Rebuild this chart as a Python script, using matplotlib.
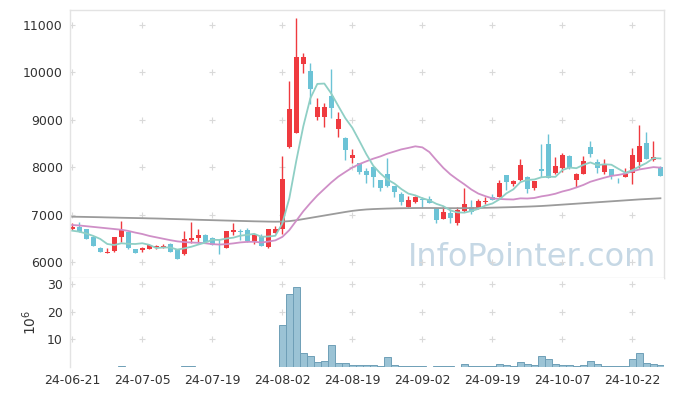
import numpy as np
import pandas as pd
import matplotlib
matplotlib.use("Agg")
import matplotlib.pyplot as plt

# daily prices (85 trading days, 24-06-21 .. 24-10-28)
opens = [6700, 6745, 6700, 6534, 6295, 6185, 6240, 6535, 6625, 6274,
         6253, 6281, 6310, 6316, 6386, 6268, 6162, 6464, 6513, 6576,
         6513, 6470, 6300, 6633, 6661, 6675, 6436, 6534, 6323, 6618,
         6703, 8432, 8728, 10184, 10023, 9053, 9050, 9502, 8812, 8616,
         8200, 8082, 7926, 8011, 7730, 7857, 7603, 7435, 7167, 7272,
         7318, 7329, 7133, 6907, 7040, 6816, 7076, 7154, 7118, 7260,
         7378, 7378, 7835, 7646, 7730, 7800, 7568, 7962, 8489, 7871,
         7990, 8236, 7730, 7857, 8432, 8103, 7905, 7962, 7710, 7800,
         7884, 8103, 8511, 8146, 8011]
closes = [6745, 6633, 6490, 6344, 6217, 6215, 6520, 6675, 6290, 6196,
          6295, 6352, 6337, 6344, 6205, 6070, 6479, 6506, 6576, 6415,
          6365, 6460, 6655, 6668, 6626, 6450, 6570, 6344, 6696, 6703,
          7745, 9228, 10319, 10325, 9643, 9270, 9265, 9255, 9017, 8363,
          8257, 7892, 7842, 7787, 7568, 7610, 7470, 7259, 7308, 7378,
          7310, 7251, 6886, 7061, 6935, 7097, 7224, 7061, 7287, 7287,
          7308, 7660, 7694, 7715, 8046, 7540, 7709, 7926, 7778, 8025,
          8257, 7976, 7857, 8131, 8278, 7976, 8061, 7814, 7700, 7857,
          8257, 8447, 8179, 8215, 7820]
highs = [6816, 6850, 6705, 6540, 6323, 6290, 6525, 6865, 6630, 6280,
         6320, 6360, 6365, 6385, 6390, 6272, 6654, 6844, 6696, 6580,
         6520, 6475, 6660, 6816, 6703, 6710, 6580, 6584, 6700, 6760,
         8236, 9825, 11141, 10403, 10192, 9454, 9348, 10065, 9171, 8640,
         8378, 8090, 7976, 8030, 7735, 8188, 7610, 7470, 7399, 7399,
         7378, 7399, 7140, 7188, 7112, 7154, 7555, 7308, 7322, 7365,
         7435, 7730, 7840, 7730, 8167, 7810, 7715, 8489, 8694, 8209,
         8306, 8260, 7870, 8236, 8559, 8173, 8173, 7970, 7766, 7990,
         8411, 8890, 8736, 8553, 8020]
lows = [6675, 6630, 6485, 6340, 6210, 6180, 6217, 6415, 6268, 6190,
        6211, 6275, 6281, 6290, 6200, 6065, 6155, 6400, 6394, 6410,
        6360, 6165, 6295, 6570, 6464, 6430, 6380, 6340, 6302, 6610,
        6590, 8400, 8715, 9981, 9327, 8996, 8842, 9032, 8631, 8152,
        8082, 7860, 7673, 7589, 7504, 7590, 7378, 7203, 7160, 7238,
        7146, 7245, 6829, 6900, 6829, 6780, 7050, 7013, 7110, 7230,
        7300, 7365, 7519, 7600, 7700, 7462, 7519, 7800, 7770, 7860,
        7905, 7955, 7589, 7850, 8209, 7871, 7850, 7751, 7660, 7790,
        7639, 7976, 8170, 8140, 7810]

# volume, millions of shares
volume = [0.05, 0.05, 0.05, 0.05, 0.05, 0.05, 0.05, 0.5, 0.05, 0.05,
          0.05, 0.05, 0.05, 0.05, 0.05, 0.05, 0.4, 0.4, 0.05, 0.05,
          0.05, 0.05, 0.05, 0.05, 0.05, 0.05, 0.05, 0.05, 0.05, 0.05,
          15.1, 26.5, 29.0, 5.0, 4.0, 1.9, 2.3, 7.9, 1.4, 1.4,
          0.8, 0.8, 0.8, 0.8, 0.5, 3.6, 0.8, 0.4, 0.4, 0.4,
          0.4, 0.05, 0.4, 0.4, 0.4, 0.05, 1.1, 0.4, 0.4, 0.4,
          0.4, 1.1, 0.7, 0.3, 1.8, 1.1, 0.7, 3.9, 2.9, 1.1,
          0.7, 0.7, 0.3, 0.7, 2.1, 1.1, 0.4, 0.4, 0.4, 0.4,
          3.0, 5.0, 1.4, 1.1, 0.8]

# moving averages before enough history is shown
ma5_head = [6660, 6640, 6600, 6550]
ma20_head = [6780, 6770, 6755, 6740, 6725, 6710, 6695, 6680, 6655, 6620,
             6590, 6550, 6520, 6490, 6460, 6435, 6420, 6410, 6405]
ma_long = [6955, 6953, 6950, 6947, 6944, 6940, 6937, 6933, 6930, 6927,
           6924, 6920, 6917, 6913, 6908, 6904, 6900, 6895, 6890, 6886,
           6882, 6878, 6874, 6870, 6866, 6862, 6858, 6855, 6852, 6850,
           6852, 6862, 6880, 6905, 6930, 6955, 6980, 7005, 7030, 7055,
           7078, 7095, 7108, 7116, 7122, 7127, 7131, 7134, 7136, 7138,
           7139, 7139, 7138, 7136, 7135, 7135, 7136, 7138, 7140, 7143,
           7146, 7150, 7154, 7158, 7163, 7168, 7174, 7181, 7190, 7200,
           7210, 7220, 7230, 7240, 7250, 7260, 7270, 7280, 7290, 7300,
           7310, 7320, 7328, 7336, 7344]

tick_idx = [0, 10, 20, 30, 40, 50, 60, 70, 80]
tick_labels = ["24-06-21", "24-07-05", "24-07-19", "24-08-02", "24-08-19",
               "24-09-02", "24-09-19", "24-10-07", "24-10-22"]
price_ticks = [6000, 7000, 8000, 9000, 10000, 11000]
vol_ticks = [10, 20, 30]

o = np.array(opens, dtype=float)
c = np.array(closes, dtype=float)
h = np.array(highs, dtype=float)
l = np.array(lows, dtype=float)
x = np.arange(len(c))

ma5 = pd.Series(c).rolling(5).mean().to_numpy()
ma5[:4] = ma5_head
ma20 = pd.Series(c).rolling(20).mean().to_numpy()
ma20[:19] = ma20_head

RED = "#ef3a3f"
BLUE = "#6cc3d6"
GRID = "#d9d9d9"
up = c >= o
colors = np.where(up, RED, BLUE)

plt.rcParams["font.family"] = "DejaVu Sans"
fig = plt.figure(figsize=(6.73, 3.96), dpi=100)
ax = fig.add_axes([0.1037, 0.298, 0.8823, 0.6767])
axv = fig.add_axes([0.1037, 0.0732, 0.8823, 0.2248], sharex=ax)

# candles
ax.vlines(x, l, h, colors=colors, linewidth=1.0, zorder=2)
ax.bar(x, np.maximum(np.abs(c - o), 12), bottom=np.minimum(o, c), width=0.72,
       color=colors, linewidth=0, zorder=2)

ax.plot(x, ma_long, color="#9b9b9b", lw=1.3, zorder=3)
ax.plot(x, ma20, color="#cf8fc7", lw=1.3, zorder=3)
ax.plot(x, ma5, color="#8fcfc5", lw=1.3, zorder=3)

ax.set_xlim(-0.35, 84.45)
ax.set_ylim(5662, 11316)
ax.set_yticks(price_ticks)
ax.set_yticklabels([str(v) for v in price_ticks])

gx, gy = np.meshgrid(tick_idx, price_ticks)
ax.scatter(gx.ravel(), gy.ravel(), marker="+", s=18, color=GRID, lw=0.8, zorder=1)

ax.text(0.987, 0.078, "InfoPointer.com", transform=ax.transAxes, ha="right",
        va="center", fontsize=23, color="#c6d8e5", zorder=0)

# volume
axv.bar(x, volume, width=1.0, color="#9bc3d5", edgecolor="#6f9fb7",
        linewidth=0.7, zorder=2)
axv.set_ylim(0, 32.2)
axv.set_yticks(vol_ticks)
axv.set_yticklabels([str(v) for v in vol_ticks])
gx, gy = np.meshgrid(tick_idx, vol_ticks)
axv.scatter(gx.ravel(), gy.ravel(), marker="+", s=18, color=GRID, lw=0.8, zorder=1)
axv.set_ylabel(r"$10^6$", fontsize=10, color="#333333", labelpad=6)

axv.set_xticks(tick_idx)
axv.set_xticklabels(tick_labels)

for a in (ax, axv):
    a.tick_params(length=0, labelsize=9, colors="#333333", pad=5)
    for s in a.spines.values():
        s.set_color("#e3e3e3")
        s.set_linewidth(1.0)
ax.tick_params(axis="x", labelbottom=False)
axv.spines["right"].set_visible(False)
axv.spines["bottom"].set_visible(False)
axv.spines["top"].set_visible(False)

fig.savefig("out.png", dpi=100)
